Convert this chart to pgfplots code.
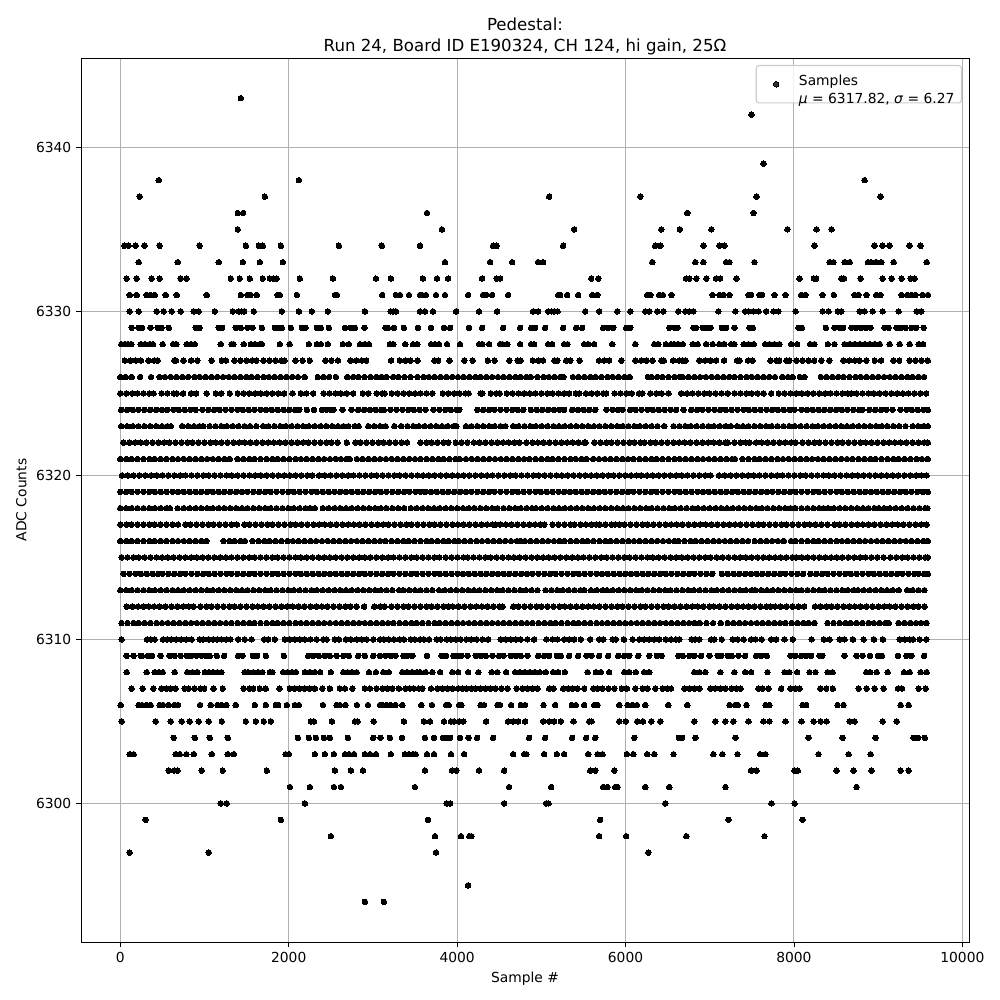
\documentclass[border=0pt]{standalone}
\usepackage{pgfplots}
\pgfplotsset{compat=1.18}
\usepackage{fontspec}
\setmainfont{DejaVu Sans}
\begin{document}
\begin{tikzpicture}
\path[use as bounding box] (-58.32bp,-41.76bp) rectangle (661.68bp,678.24bp);
\begin{axis}[
 scale only axis, width=639.36bp, height=636.48bp,
 xmin=-467, xmax=10079, ymin=6291.55, ymax=6345.45,
 xtick={0,2000,4000,6000,8000,10000}, ytick={6300,6310,6320,6330,6340},
 scaled x ticks=false, scaled y ticks=false,
 xtick pos=bottom, ytick pos=left, tick align=outside,
 major tick length=3.5bp,
 tick style={black,line width=0.6bp},
 axis line style={black,line width=0.6bp},
 grid=major, major grid style={color=black!31,line width=0.7bp},
 /pgf/number format/assume math mode=true,
 /pgf/number format/1000 sep={},
 tick label style={font=\fontsize{10}{12}\selectfont},
 xlabel={Sample \#}, ylabel={ADC Counts},
 label style={font=\fontsize{10}{12}\selectfont},
 title style={font=\fontsize{12}{14.7}\selectfont,align=center,yshift=-7bp},
 title={Pedestal:\\Run 24, Board ID E190324, CH 124, hi gain, 25Ω},
 legend style={at={(axis description cs:0.9921,0.9921)},anchor=north east,draw=black!20,line width=0.8bp,rounded corners=2bp,fill=white,fill opacity=0.8,text opacity=1,font=\fontsize{10}{13}\selectfont,inner xsep=3bp,inner ysep=3bp},
 legend image code/.code={\draw[#1] plot coordinates {(0bp,0bp)};\path (-11bp,0bp) (14bp,0bp);},
 p/.style={only marks,mark=*,mark size=2bp,mark options={draw=black,fill=black,line width=0pt},forget plot},
 q/.style={only marks,mark=*,mark size=2bp,mark options={draw=black,fill=black,line width=0pt}},
 table/header=false, table/x index=0,
]
\addplot[q] table[y expr=6343]{
1431
};
\addlegendentry{\begin{tabular}{@{}l@{}}Samples\\\textit{μ} = 6317.82, \textit{σ} = 6.27\end{tabular}}
\addplot[p] table[y expr=6342]{
7495
};
\addplot[p] table[y expr=6339]{
7638
};
\addplot[p] table[y expr=6338]{
456
2121
8839
};
\addplot[p] table[y expr=6337]{
230
1716
5093
6175
7555
9029
};
\addplot[p] table[y expr=6336]{
1395
1459
3642
6734
7519
};
\addplot[p] table[y expr=6335]{
1395
3820
5390
6425
6645
7020
7923
8268
8447
};
\addplot[p] table[y expr=6334]{
47
99
182
289
468
943
1490
1645
1692
1906
2596
3105
3559
4427
4470
5259
6353
6413
6925
7115
7174
8244
8958
9053
9136
9374
9505
};
\addplot[p] table[y expr=6333]{
218
682
1169
1455
1657
1930
3856
4391
4653
4962
5021
6318
6829
6925
7194
7234
7531
8423
8470
8601
8661
8879
8918
8978
9037
9184
9576
};
\addplot[p] table[y expr=6332]{
75
194
372
468
717
785
1312
1419
1538
1692
1776
1815
1855
2132
2525
3036
3214
3594
3761
3892
4296
4470
4510
5592
5676
6718
6758
6841
6960
7075
7123
7317
8066
8237
8264
8562
8593
8792
9053
9160
9279
9386
9434
};
\addplot[p] table[y expr=6331]{
111
194
313
360
408
539
670
1026
1431
1510
1546
1621
1867
1895
2097
2549
2572
3110
3273
3321
3428
3559
3583
3630
3749
3856
4130
4308
4344
4415
4605
5200
5224
5307
5438
5604
5664
6258
6294
6401
6445
6546
7032
7115
7162
7234
7460
7491
7590
7622
7769
7900
8086
8137
8340
8474
8720
8768
8863
8978
9025
9279
9347
9394
9442
9529
9592
};
\addplot[p] table[y expr=6330]{
111
218
432
515
610
717
872
931
1122
1336
1407
1439
1470
1585
1918
2121
2275
2465
2905
3210
3242
3273
3559
3618
3713
3987
4260
4474
4902
4962
5081
5121
5152
5192
5521
5687
5902
6056
6234
6282
6377
6449
6627
6710
6758
6806
7103
7305
7420
7460
7519
7579
7670
7757
7816
8019
8340
8411
8522
8562
8780
8839
8934
9053
9243
9457
9513
};
\addplot[p] table[y expr=6329]{
135
218
257
357
444
491
575
896
943
1169
1209
1371
1431
1510
1570
1680
1835
1875
1918
2025
2156
2200
2335
2382
2477
2668
2739
2786
2901
3150
3178
3250
3368
3535
3690
3844
3916
4141
4296
4546
4748
4879
4926
5045
5259
5414
5485
5735
5794
5854
6008
6056
6520
6580
6615
6806
6837
6917
6964
7008
7143
7194
7293
7472
7511
8054
8094
8379
8482
8542
8585
8685
8740
8800
8859
8910
9077
9125
9220
9275
9327
9394
9453
9541
};
\addplot[p] table[y expr=6328]{
12
51
91
131
242
289
349
388
503
626
666
789
844
884
1193
1320
1344
1466
1550
1597
1657
1680
1895
2010
2239
2335
2382
2465
2644
2715
2846
2905
2953
3202
3242
3384
3476
3527
3690
3737
3785
3880
4034
4260
4300
4379
4510
4538
4597
4748
4879
4914
5081
5129
5271
5311
5509
5557
5628
5842
6116
6342
6389
6480
6540
6580
6627
6679
6798
6857
6956
7035
7115
7174
7253
7293
7404
7460
7523
7658
7709
7769
7828
7967
8038
8193
8244
8403
8482
8601
8661
8720
8780
8839
8899
8958
9018
9136
9255
9374
9481
9533
};
\addplot[p] table[y expr=6327]{
55
120
185
245
335
400
445
640
660
750
840
915
1085
1205
1255
1355
1425
1495
1565
1615
1700
1770
1840
1910
1950
2080
2165
2250
2435
2505
2585
2730
2800
2870
2920
3215
3320
3390
3445
3530
3730
3775
3910
4085
4185
4365
4445
4620
4720
4755
4900
4965
5020
5155
5190
5295
5345
5455
5685
5745
5805
5950
6115
6185
6250
6320
6425
6455
6565
6635
6680
6715
6875
6945
7010
7075
7170
7325
7355
7455
7510
7720
7790
7825
7910
7945
8030
8100
8170
8240
8325
8420
8585
8655
8725
8780
8860
8960
9035
9180
9250
9375
9445
9515
9590
};
\addplot[p] table[y expr=6326]{
0
65
135
235
365
465
530
600
665
735
805
880
945
1015
1085
1150
1220
1290
1355
1425
1495
1560
1630
1700
1765
1835
1905
1970
2040
2110
2190
2345
2410
2480
2560
2695
2765
2830
2900
2970
3040
3105
3160
3240
3305
3375
3445
3530
3600
3665
3735
3805
3870
3940
4010
4075
4145
4215
4280
4345
4415
4485
4550
4620
4690
4755
4825
4875
4955
5025
5090
5160
5225
5260
5375
5440
5510
5580
5645
5715
5785
5850
5920
5990
6050
6265
6305
6375
6440
6510
6580
6645
6680
6750
6820
6885
6955
7025
7090
7160
7230
7295
7365
7435
7500
7570
7640
7705
7775
7860
7930
7985
8070
8125
8320
8385
8455
8525
8590
8660
8730
8795
8865
8935
9000
9070
9140
9205
9275
9345
9410
9480
9545
};
\addplot[p] table[y expr=6325]{
0
70
140
205
275
345
395
490
560
635
670
745
840
900
1025
1135
1200
1300
1395
1465
1530
1600
1670
1740
1805
1875
1945
2045
2145
2210
2290
2415
2485
2555
2620
2690
2765
2880
2945
3045
3110
3140
3225
3295
3365
3430
3500
3565
3635
3705
3830
3895
3965
4030
4100
4135
4280
4300
4400
4465
4505
4590
4660
4730
4795
4865
4930
5000
5070
5135
5205
5270
5330
5410
5450
5530
5600
5665
5735
5770
5870
5940
6010
6075
6160
6200
6295
6365
6430
6510
6660
6730
6795
6865
6935
7000
7070
7140
7215
7295
7365
7435
7500
7570
7640
7730
7820
7890
7960
8025
8095
8165
8230
8300
8370
8435
8505
8575
8640
8680
8745
8815
8885
8950
9020
9090
9155
9225
9295
9360
9430
9500
9570
};
\addplot[p] table[y expr=6324]{
10
80
150
215
285
355
425
495
555
630
695
765
835
895
975
1045
1115
1180
1250
1320
1390
1455
1525
1595
1665
1730
1800
1870
1940
2005
2075
2125
2215
2300
2395
2450
2505
2530
2640
2745
2825
2895
2965
3035
3100
3130
3210
3280
3350
3420
3485
3555
3625
3720
3790
3860
3925
3995
4025
4240
4310
4380
4445
4515
4585
4655
4720
4785
4875
4945
5010
5080
5150
5215
5270
5365
5435
5505
5570
5640
5775
5845
5910
5965
6055
6120
6190
6260
6325
6395
6465
6535
6600
6690
6780
6850
6915
6985
7055
7125
7190
7260
7330
7400
7465
7535
7605
7675
7740
7810
7880
7950
8005
8090
8155
8225
8295
8360
8430
8500
8570
8635
8705
8775
8815
8895
8965
9035
9100
9170
9265
9335
9400
9470
9540
9590
};
\addplot[p] table[y expr=6323]{
10
80
150
215
285
355
425
495
560
600
735
805
875
940
985
1060
1130
1200
1265
1335
1405
1475
1540
1615
1695
1760
1830
1900
1965
2035
2105
2170
2240
2310
2380
2445
2515
2585
2650
2710
2785
2830
2945
3015
3085
3150
3255
3335
3410
3480
3545
3615
3685
3750
3820
3890
3960
3990
4105
4170
4240
4310
4380
4445
4515
4575
4665
4730
4800
4870
4935
5005
5075
5145
5210
5280
5350
5415
5485
5555
5625
5690
5760
5830
5900
5965
6035
6105
6170
6240
6310
6380
6460
6570
6640
6710
6775
6845
6915
6985
7050
7120
7190
7250
7325
7395
7460
7530
7600
7670
7735
7805
7875
7945
8010
8080
8150
8220
8285
8355
8425
8495
8560
8630
8700
8770
8835
8905
8975
9045
9110
9180
9250
9325
9410
9475
9540
9590
};
\addplot[p] table[y expr=6322]{
35
105
175
245
310
380
450
520
585
655
725
795
860
930
1000
1070
1135
1205
1275
1345
1410
1480
1550
1620
1685
1755
1825
1895
1960
2030
2100
2170
2235
2305
2375
2445
2510
2580
2690
2790
2855
2925
2995
3065
3130
3200
3270
3340
3405
3565
3635
3700
3770
3840
3895
3985
4050
4120
4200
4270
4340
4405
4475
4545
4615
4680
4740
4825
4895
4960
5030
5100
5170
5235
5305
5375
5445
5510
5525
5630
5700
5770
5835
5905
5975
6045
6110
6180
6225
6295
6360
6430
6500
6570
6635
6705
6775
6845
6910
6980
7050
7120
7185
7215
7295
7365
7430
7475
7550
7620
7690
7755
7825
7895
7965
8020
8100
8170
8240
8305
8375
8445
8515
8580
8650
8720
8790
8855
8925
8995
9065
9130
9200
9270
9340
9405
9475
9545
9590
};
\addplot[p] table[y expr=6321]{
0
70
135
205
275
345
410
480
550
620
685
755
825
895
960
1030
1100
1170
1235
1300
1390
1460
1530
1595
1665
1735
1805
1870
1940
2010
2080
2145
2215
2285
2355
2420
2490
2560
2620
2690
2725
2810
2880
2950
3015
3085
3155
3225
3290
3360
3430
3500
3565
3635
3705
3775
3840
3910
3980
4030
4105
4175
4245
4310
4380
4450
4520
4585
4655
4725
4795
4860
4930
5000
5070
5135
5205
5275
5345
5410
5480
5535
5615
5685
5755
5820
5890
5960
6030
6095
6165
6235
6305
6370
6440
6510
6580
6645
6715
6785
6855
6920
6990
7060
7130
7195
7265
7300
7390
7460
7530
7595
7665
7735
7805
7870
7940
8010
8080
8145
8215
8285
8355
8420
8490
8560
8630
8695
8765
8835
8905
8970
9040
9110
9180
9245
9315
9385
9455
9520
9590
};
\addplot[p] table[y expr=6320]{
20
90
160
225
295
365
435
500
570
640
710
775
845
915
985
1050
1120
1190
1260
1325
1395
1465
1535
1600
1670
1740
1810
1875
1945
2015
2085
2150
2220
2280
2360
2430
2495
2565
2635
2705
2770
2840
2910
2980
3045
3115
3185
3255
3320
3390
3460
3530
3595
3665
3735
3805
3870
3940
4010
4080
4145
4215
4285
4355
4420
4490
4560
4630
4695
4765
4835
4905
4970
5040
5110
5180
5245
5315
5385
5455
5520
5590
5660
5730
5795
5860
5925
5995
6065
6130
6185
6255
6325
6395
6460
6530
6600
6670
6735
6805
6875
6945
7010
7110
7180
7250
7315
7385
7455
7525
7590
7660
7730
7800
7865
7935
8005
8075
8140
8210
8280
8350
8415
8485
8555
8625
8690
8760
8830
8900
8965
9035
9105
9175
9240
9310
9380
9450
9515
9575
};
\addplot[p] table[y expr=6319]{
0
70
135
205
275
345
410
480
550
620
685
755
825
895
960
1030
1100
1170
1235
1305
1375
1445
1510
1580
1650
1720
1785
1855
1925
1995
2060
2130
2200
2270
2335
2405
2475
2545
2610
2680
2750
2820
2885
2955
3025
3095
3160
3230
3300
3370
3435
3505
3565
3620
3690
3760
3830
3895
3965
4035
4105
4170
4240
4310
4380
4445
4515
4585
4655
4720
4790
4860
4930
4995
5065
5135
5205
5270
5340
5410
5480
5545
5615
5685
5755
5820
5890
5960
6030
6095
6165
6235
6305
6370
6440
6510
6580
6645
6715
6785
6855
6920
6990
7060
7130
7195
7265
7335
7405
7470
7540
7610
7680
7745
7815
7885
7955
8020
8090
8160
8230
8295
8365
8435
8505
8570
8640
8710
8780
8845
8915
8985
9055
9120
9190
9260
9330
9395
9465
9530
9590
};
\addplot[p] table[y expr=6318]{
0
70
135
205
275
345
410
480
550
590
680
755
825
895
960
1030
1100
1170
1235
1305
1375
1445
1510
1580
1650
1720
1785
1855
1925
1995
2060
2130
2200
2255
2310
2405
2475
2545
2610
2680
2750
2820
2885
2955
3025
3095
3160
3230
3300
3370
3450
3520
3590
3655
3725
3795
3865
3930
4000
4070
4140
4205
4275
4345
4415
4480
4550
4620
4690
4755
4825
4890
4935
5005
5075
5145
5210
5280
5350
5420
5485
5555
5625
5695
5760
5830
5900
5970
6035
6105
6175
6245
6310
6380
6450
6520
6585
6655
6725
6795
6860
6930
7000
7070
7135
7205
7275
7345
7410
7480
7550
7620
7685
7755
7825
7895
7960
8015
8090
8160
8230
8300
8350
8405
8475
8545
8610
8680
8750
8820
8885
8955
9010
9070
9140
9210
9280
9350
9420
9490
9560
9585
};
\addplot[p] table[y expr=6317]{
0
70
135
205
275
345
410
480
550
620
685
775
835
905
975
1045
1110
1180
1250
1320
1385
1475
1535
1605
1675
1745
1810
1880
1950
2020
2085
2155
2225
2295
2360
2430
2500
2570
2635
2705
2775
2845
2910
2980
3050
3120
3185
3255
3325
3395
3460
3530
3600
3670
3735
3805
3875
3945
4010
4080
4150
4220
4285
4355
4425
4460
4510
4580
4650
4715
4785
4855
4925
4990
5035
5135
5205
5275
5350
5395
5465
5530
5600
5650
5695
5765
5835
5875
5925
5990
6060
6130
6200
6265
6335
6405
6475
6540
6610
6680
6750
6815
6885
6955
7025
7090
7160
7230
7300
7365
7435
7505
7575
7640
7710
7780
7850
7915
7985
8055
8125
8190
8260
8330
8400
8480
8545
8615
8685
8750
8820
8890
8960
9025
9095
9165
9235
9300
9370
9440
9510
9575
};
\addplot[p] table[y expr=6316]{
0
70
135
205
275
345
410
480
550
620
685
755
825
895
960
1025
1225
1295
1360
1430
1480
1570
1640
1710
1775
1845
1915
1985
2050
2120
2190
2260
2325
2395
2465
2535
2600
2670
2740
2810
2875
2945
3015
3085
3150
3220
3290
3360
3425
3495
3565
3635
3695
3765
3835
3900
3965
4020
4090
4160
4230
4295
4365
4435
4505
4570
4640
4710
4750
4805
4875
4945
5015
5080
5150
5220
5275
5345
5415
5485
5550
5620
5690
5760
5825
5895
5965
6035
6100
6170
6240
6310
6375
6445
6515
6585
6630
6700
6770
6835
6905
6975
7045
7110
7180
7250
7320
7385
7455
7535
7605
7675
7740
7810
7880
7965
8020
8090
8160
8230
8295
8365
8435
8505
8570
8640
8710
8780
8845
8915
8985
9055
9120
9190
9260
9330
9395
9465
9535
9590
};
\addplot[p] table[y expr=6315]{
15
85
155
220
290
360
430
495
565
635
705
770
840
910
980
1045
1115
1185
1255
1320
1390
1460
1530
1595
1665
1735
1805
1870
1940
2010
2080
2145
2215
2285
2355
2420
2490
2560
2630
2695
2765
2835
2905
2970
3040
3110
3180
3245
3315
3385
3455
3520
3590
3660
3730
3790
3865
3935
4005
4075
4125
4195
4265
4335
4400
4470
4540
4610
4675
4745
4815
4885
4950
5020
5090
5160
5225
5295
5365
5435
5500
5570
5640
5710
5775
5845
5915
5985
6050
6120
6190
6260
6325
6395
6465
6535
6600
6670
6740
6810
6875
6945
7010
7085
7155
7225
7295
7360
7430
7500
7570
7635
7705
7775
7845
7910
7980
8025
8095
8165
8235
8300
8370
8440
8510
8575
8645
8715
8785
8850
8920
8990
9065
9145
9215
9285
9350
9420
9490
9560
9590
};
\addplot[p] table[y expr=6314]{
40
110
180
245
315
385
450
500
570
640
710
775
845
915
985
1050
1120
1190
1260
1320
1390
1460
1530
1595
1665
1735
1805
1870
1940
2010
2080
2145
2215
2285
2355
2420
2490
2560
2630
2695
2765
2835
2905
2970
3040
3110
3180
3245
3315
3385
3455
3520
3590
3660
3730
3795
3865
3935
4005
4070
4140
4210
4280
4345
4415
4485
4555
4620
4690
4760
4830
4895
4965
5035
5105
5170
5240
5310
5380
5445
5515
5585
5655
5720
5790
5860
5930
5995
6065
6135
6205
6270
6340
6410
6480
6545
6615
6685
6755
6820
6890
6960
7030
7145
7215
7285
7350
7420
7490
7560
7625
7695
7765
7835
7900
7970
8040
8110
8195
8265
8335
8400
8470
8540
8610
8675
8745
8815
8885
8950
9020
9090
9155
9225
9290
9360
9430
9480
9545
9590
};
\addplot[p] table[y expr=6313]{
0
70
135
205
275
345
410
480
550
620
685
755
825
895
960
1030
1100
1170
1235
1305
1375
1445
1510
1580
1650
1720
1785
1855
1925
1995
2060
2130
2200
2270
2335
2405
2475
2545
2610
2680
2750
2820
2885
2955
3025
3095
3160
3230
3310
3360
3430
3500
3565
3635
3705
3785
3855
3925
3990
4060
4130
4200
4265
4335
4405
4475
4540
4610
4680
4750
4815
4885
4955
5050
5120
5190
5255
5325
5395
5465
5510
5590
5660
5730
5780
5850
5920
5985
6055
6125
6195
6260
6330
6400
6470
6535
6605
6675
6745
6810
6880
6950
7020
7085
7155
7225
7295
7360
7430
7500
7540
7610
7680
7750
7815
7885
7955
8025
8090
8160
8230
8300
8365
8435
8505
8575
8640
8710
8760
8830
8900
8970
9035
9105
9175
9245
9345
9410
9480
9550
};
\addplot[p] table[y expr=6312]{
75
140
210
280
340
400
470
540
605
675
745
815
870
950
1020
1085
1155
1225
1295
1360
1430
1500
1570
1635
1705
1775
1845
1910
1980
2050
2120
2185
2255
2325
2395
2460
2530
2600
2670
2735
2805
2895
3015
3085
3140
3220
3290
3360
3425
3495
3565
3635
3700
3770
3840
3895
3950
4020
4090
4160
4225
4295
4365
4435
4500
4540
4665
4730
4800
4870
4940
5005
5075
5145
5215
5280
5350
5415
5485
5555
5625
5690
5760
5830
5900
5965
6035
6105
6175
6240
6310
6380
6450
6515
6585
6650
6720
6790
6860
6925
6995
7050
7120
7190
7260
7325
7395
7465
7535
7600
7670
7720
7775
7845
7915
7980
8050
8120
8250
8320
8390
8450
8520
8590
8655
8725
8795
8865
8930
9000
9070
9140
9205
9275
9345
9415
9480
9550
};
\addplot[p] table[y expr=6311]{
15
85
155
220
290
360
430
495
565
635
705
770
840
910
980
1045
1115
1185
1255
1320
1390
1460
1530
1595
1665
1735
1805
1870
1940
2010
2080
2145
2215
2285
2355
2420
2490
2560
2630
2695
2765
2835
2905
2970
3040
3110
3180
3245
3315
3385
3455
3520
3590
3660
3730
3795
3865
3935
4005
4070
4140
4210
4280
4345
4415
4485
4555
4620
4690
4760
4830
4895
4965
5035
5105
5170
5240
5310
5380
5445
5515
5585
5655
5720
5790
5860
5930
5995
6065
6135
6205
6270
6340
6410
6480
6545
6615
6685
6755
6820
6880
6960
7040
7130
7215
7280
7350
7420
7490
7560
7625
7695
7765
7835
7900
7970
8040
8110
8175
8245
8400
8470
8540
8610
8675
8745
8815
8885
8950
9020
9090
9125
9240
9310
9380
9450
9510
9575
};
\addplot[p] table[y expr=6310]{
16
317
360
408
507
559
606
666
725
785
848
943
983
1050
1102
1153
1201
1260
1308
1399
1478
1558
1708
1756
1835
1954
2014
2073
2132
2192
2259
2331
2410
2450
2549
2596
2680
2739
2806
2866
2925
3004
3084
3131
3190
3250
3317
3368
3448
3495
3559
3606
3666
3757
3804
3876
3923
3983
4042
4110
4169
4233
4300
4367
4518
4577
4637
4696
4756
4835
4914
5061
5132
5192
5271
5331
5390
5469
5580
5687
5735
5846
5885
5981
6084
6163
6222
6282
6342
6401
6480
6540
6599
6639
6786
6825
6877
7016
7055
7143
7273
7333
7404
7491
7543
7618
7729
7789
7888
7987
8209
8356
8423
8542
8601
8700
8827
8950
9057
9255
9315
9374
9414
9493
9573
};
\addplot[p] table[y expr=6309]{
75
158
242
257
329
376
479
586
646
717
789
844
904
963
1022
1062
1145
1233
1399
1451
1574
1625
1728
1942
2232
2291
2358
2430
2489
2569
2648
2715
2826
2905
3004
3084
3150
3210
3269
3361
3408
3468
3642
3816
3868
3955
4003
4050
4122
4221
4280
4340
4419
4498
4550
4637
4696
4756
4835
4962
5033
5093
5184
5232
5331
5438
5537
5596
5687
5794
5913
5985
6044
6151
6282
6373
6429
6627
6679
6758
6817
6897
6996
7095
7135
7214
7261
7341
7420
7551
7610
7678
7959
8015
8086
8145
8205
8304
8336
8601
8744
8815
8903
8998
9045
9236
9335
9394
9545
};
\addplot[p] table[y expr=6308]{
75
313
408
456
503
646
796
856
915
1003
1050
1102
1153
1201
1478
1518
1581
1637
1688
1776
1807
1934
1986
2041
2085
2192
2251
2311
2374
2501
2648
2699
2747
2806
2953
3036
3123
3190
3349
3408
3468
3527
3559
3626
3705
3797
3943
4011
4130
4253
4411
4478
4582
4689
4744
4803
4863
4922
4982
5053
5140
5200
5279
5549
5648
5707
5806
5985
6044
6123
6222
6282
6817
6877
6948
7127
7293
7420
7491
7686
7888
7947
8038
8185
8256
8399
8459
8859
8907
8982
9113
9307
9374
9505
9576
};
\addplot[p] table[y expr=6307]{
135
265
392
487
547
598
658
765
812
884
955
995
1106
1217
1466
1538
1578
1657
1728
1891
2014
2073
2132
2192
2251
2311
2398
2489
2608
2668
2755
2905
2965
3044
3111
3170
3230
3309
3388
3440
3487
3547
3587
3690
3765
3824
3884
3943
4011
4062
4114
4169
4221
4280
4340
4399
4459
4526
4597
4708
4776
4835
4895
4954
5093
5144
5259
5319
5370
5430
5509
5616
5668
5727
5798
5866
5957
6016
6116
6203
6262
6353
6441
6500
6540
6699
6758
6817
6877
7008
7063
7127
7186
7261
7313
7365
7579
7630
7698
7848
7959
8015
8066
8312
8383
8462
8768
8863
8958
9065
9236
9283
9481
9565
};
\addplot[p] table[y expr=6306]{
4
218
257
309
360
468
507
575
646
686
947
1074
1153
1201
1260
1371
1597
1728
1847
1875
1978
2073
2121
2406
2569
2608
2675
2810
2941
3084
3111
3162
3210
3269
3349
3575
3701
3868
3900
4023
4050
4280
4320
4478
4510
4641
4756
4807
5026
5164
5362
5410
5509
5628
5668
5925
6024
6084
6135
6234
6508
6734
7234
7301
7333
7436
7662
7709
8102
8145
8518
8589
9267
9362
};
\addplot[p] table[y expr=6305]{
16
420
598
729
824
931
1050
1205
1490
1609
1704
1788
2263
2299
2513
2787
2818
3009
3368
3606
3678
3844
3927
3963
4023
4074
4344
4605
4665
4724
4807
5022
5093
5152
5232
5382
5569
5596
5925
6004
6139
6207
6306
6413
6817
7067
7186
7281
7460
7638
7709
7900
8090
8233
8316
8387
8661
8720
9053
9220
};
\addplot[p] table[y expr=6304]{
634
884
1062
1276
2109
2239
2323
2418
2489
2703
3004
3090
3202
3345
3618
3725
3832
3876
3916
4034
4137
4237
4427
4855
5045
5366
5533
5640
6104
6633
6671
6829
7305
8173
8578
8970
9422
9473
9553
};
\addplot[p] table[y expr=6303]{
111
158
658
705
785
872
1086
1276
1348
1962
2002
2311
2430
2537
2668
2715
2775
2905
2965
3036
3214
3380
3428
3476
3507
3642
3725
3927
4082
4665
4796
4823
5033
5184
5271
5557
5668
5727
6016
6092
6258
6342
6570
7043
7150
7329
7598
7662
8292
8649
8910
};
\addplot[p] table[y expr=6302]{
575
638
678
967
1217
1740
2549
2739
2882
3618
3939
3991
4260
4558
5580
5640
5866
7491
7555
8007
8046
8506
8708
8922
9267
9362
};
\addplot[p] table[y expr=6301]{
2014
2251
2537
2620
3499
4617
5117
5735
5787
5878
5905
6234
6520
7186
8744
};
\addplot[p] table[y expr=6300]{
1193
1264
2192
3876
3916
4558
5057
5085
6472
7733
8007
};
\addplot[p] table[y expr=6299]{
301
1906
3654
5699
7222
8102
};
\addplot[p] table[y expr=6298]{
2501
3737
4046
4145
4169
5687
6008
6722
7650
};
\addplot[p] table[y expr=6297]{
111
1050
3749
6270
};
\addplot[p] table[y expr=6295]{
4130
};
\addplot[p] table[y expr=6294]{
2905
3131
};
\end{axis}
\end{tikzpicture}
\end{document}
